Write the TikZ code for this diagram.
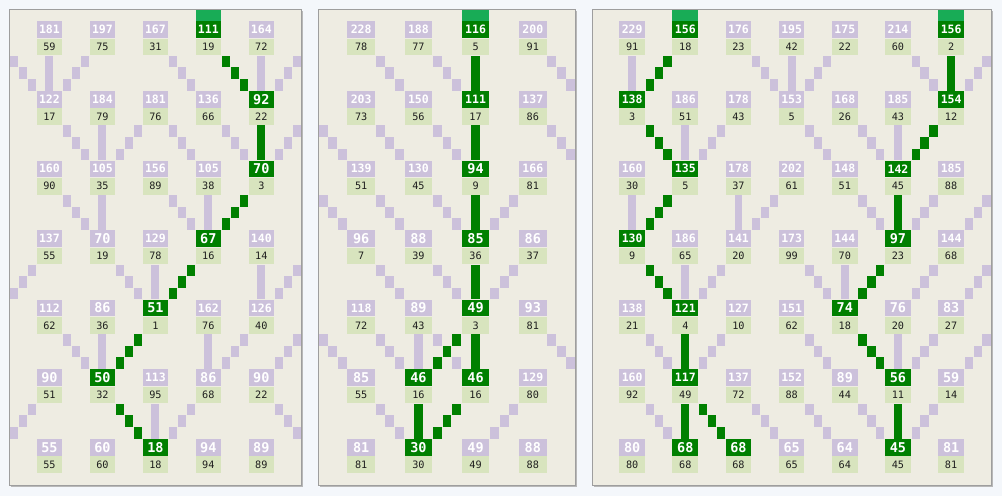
\documentclass[tikz,border=0pt]{standalone}
\usepackage{fontspec}
\setmonofont{DejaVu Sans Mono}
\definecolor{bgout}{RGB}{244,247,251}
\definecolor{panelc}{RGB}{238,236,226}
\definecolor{lil}{RGB}{204,193,219}
\definecolor{valg}{RGB}{216,228,190}
\definecolor{pathg}{RGB}{0,128,0}
\definecolor{topg}{RGB}{24,172,86}
\definecolor{txt}{RGB}{30,30,30}
\tikzset{
  lab/.style={inner sep=0pt, minimum width={3*\PW*1pt-0.9pt}, minimum height=16.6pt,
    font=\ttfamily\bfseries, text=white},
  labl/.style={fill=lil},
  labg/.style={fill=pathg},
  val/.style={inner sep=0pt, minimum width={3*\PW*1pt-0.9pt}, minimum height=16.6pt,
    fill=valg, text=txt, font=\ttfamily\fontsize{10.2}{10.2}\selectfont},
  conl/.style={fill=lil},
  cong/.style={fill=pathg},
  topbar/.style={fill=topg},
  paneln/.style={fill=panelc, draw=black!38, line width=0.7pt},
  pshadow/.style={fill=black!28},
}
% node: row, col, label, value, style letter
\newcommand\nd[5]{%
  \pgfmathsetmacro\cx{\PX+\PW*(6*(#2)+4.5)}%
  \pgfmathsetmacro\ly{\PT+\PV*(1.75+6*(#1))}%
  \pgfmathsetmacro\vy{\PT+\PV*(3.25+6*(#1))}%
  \ifnum#3>99\relax\def\lf{\fontsize{11.5}{11.5}\selectfont}\else\def\lf{\fontsize{13.5}{13.5}\selectfont}\fi
  \node[lab,lab#5] (\pre#1x#2l) at (\cx,\ly) {\lf #3};
  \node[val] (\pre#1x#2v) at (\cx,\vy) {#4};
}
% connectors: gap row, destination column, style
\newcommand\cV[3]{\fill[#3] ({\PX+\PW*(6*(#2)+4)+0.45},{\PT+\PV*(4+6*(#1))}) rectangle ({\PX+\PW*(6*(#2)+5)-0.45},{\PT+\PV*(7+6*(#1))});}
\newcommand\cR[3]{\foreach \kk in {0,1,2}{\fill[#3] ({\PX+\PW*(6*(#2)+\kk)+0.3},{\PT+\PV*(4+6*(#1)+\kk)}) rectangle ({\PX+\PW*(6*(#2)+\kk+1)-0.3},{\PT+\PV*(5+6*(#1)+\kk)});}}
\newcommand\cL[3]{\foreach \kk in {0,1,2}{\fill[#3] ({\PX+\PW*(6*(#2)+8-\kk)+0.3},{\PT+\PV*(4+6*(#1)+\kk)}) rectangle ({\PX+\PW*(6*(#2)+9-\kk)-0.3},{\PT+\PV*(5+6*(#1)+\kk)});}}
\newcommand\panelframe[1]{%
  \fill[pshadow] ({\PX+1.4},{\PT+1.4}) rectangle ({\PX+\PW*#1+1.8},{\PT+\PV*41+1.8});
  \filldraw[paneln] (\PX,\PT) rectangle ({\PX+\PW*#1},{\PT+\PV*41});}
\newcommand\tbar[1]{\fill[topbar] ({\PX+\PW*(6*(#1)+3)+0.45},{\PT+0.4}) rectangle ({\PX+\PW*(6*(#1)+6)-0.45},{\PT+\PV-0.4});}
\begin{document}
\begin{tikzpicture}[x=1pt,y=-1pt]
\fill[bgout] (0,0) rectangle (1002,496);
\useasboundingbox (0,0) rectangle (1002,496);
\def\PT{9.3}\def\PV{11.6}
% ---------------- Panel 1
\def\PX{9.7}\def\PW{8.83}\def\pre{a}
\panelframe{33}
\foreach \rr/\ty/\dd/\st in {0/R/0/l,0/V/0/l,0/L/0/l,0/R/3/l,0/V/4/l,0/L/4/l,0/R/4/g,
  1/R/1/l,1/V/1/l,1/L/1/l,1/R/3/l,1/R/4/l,1/L/4/l,1/V/4/g,
  2/R/1/l,2/V/1/l,2/R/3/l,2/V/3/l,2/L/3/g,
  3/L/-1/l,3/R/2/l,3/V/2/l,3/V/4/l,3/L/4/l,3/L/2/g,
  4/R/1/l,4/V/1/l,4/V/3/l,4/L/3/l,4/L/4/l,4/L/1/g,
  5/L/-1/l,5/V/2/l,5/L/2/l,5/R/5/l,5/R/2/g}
  {\csname c\ty\endcsname{\rr}{\dd}{con\st}}
\tbar{3}
\foreach \rr/\cc/\la/\va/\st in {0/0/181/59/l,0/1/197/75/l,0/2/167/31/l,0/3/111/19/g,0/4/164/72/l,
  1/0/122/17/l,1/1/184/79/l,1/2/181/76/l,1/3/136/66/l,1/4/92/22/g,
  2/0/160/90/l,2/1/105/35/l,2/2/156/89/l,2/3/105/38/l,2/4/70/3/g,
  3/0/137/55/l,3/1/70/19/l,3/2/129/78/l,3/3/67/16/g,3/4/140/14/l,
  4/0/112/62/l,4/1/86/36/l,4/2/51/1/g,4/3/162/76/l,4/4/126/40/l,
  5/0/90/51/l,5/1/50/32/g,5/2/113/95/l,5/3/86/68/l,5/4/90/22/l,
  6/0/55/55/l,6/1/60/60/l,6/2/18/18/g,6/3/94/94/l,6/4/89/89/l}
  {\nd{\rr}{\cc}{\la}{\va}{\st}}
% ---------------- Panel 2
\def\PX{318.3}\def\PW{9.533}\def\pre{b}
\panelframe{27}
\foreach \rr/\ty/\dd/\st in {0/R/1/l,0/R/2/l,0/R/4/l,0/V/2/g,
  1/R/0/l,1/R/1/l,1/R/2/l,1/R/4/l,1/V/2/g,
  2/R/0/l,2/R/1/l,2/R/2/l,2/L/2/l,2/V/2/g,
  3/R/1/l,3/R/2/l,3/L/2/l,3/V/2/g,
  4/R/0/l,4/R/1/l,4/V/1/l,4/R/2/l,4/R/4/l,4/L/1/g,4/V/2/g,
  5/R/1/l,5/L/2/l,5/V/1/g,5/L/1/g}
  {\csname c\ty\endcsname{\rr}{\dd}{con\st}}
\tbar{2}
\foreach \rr/\cc/\la/\va/\st in {0/0/228/78/l,0/1/188/77/l,0/2/116/5/g,0/3/200/91/l,
  1/0/203/73/l,1/1/150/56/l,1/2/111/17/g,1/3/137/86/l,
  2/0/139/51/l,2/1/130/45/l,2/2/94/9/g,2/3/166/81/l,
  3/0/96/7/l,3/1/88/39/l,3/2/85/36/g,3/3/86/37/l,
  4/0/118/72/l,4/1/89/43/l,4/2/49/3/g,4/3/93/81/l,
  5/0/85/55/l,5/1/46/16/g,5/2/46/16/g,5/3/129/80/l,
  6/0/81/81/l,6/1/30/30/g,6/2/49/49/l,6/3/88/88/l}
  {\nd{\rr}{\cc}{\la}{\va}{\st}}
% ---------------- Panel 3
\def\PX{592.3}\def\PW{8.86}\def\pre{c}
\panelframe{45}
\foreach \rr/\ty/\dd/\st in {0/V/0/l,0/R/3/l,0/V/3/l,0/L/3/l,0/R/6/l,0/L/6/l,0/L/0/g,0/V/6/g,
  1/V/1/l,1/L/1/l,1/R/4/l,1/R/5/l,1/V/5/l,1/R/1/g,1/L/5/g,
  2/V/0/l,2/V/2/l,2/L/2/l,2/R/5/l,2/L/5/l,2/L/6/l,2/L/0/g,2/V/5/g,
  3/V/1/l,3/L/1/l,3/R/4/l,3/V/4/l,3/L/5/l,3/L/6/l,3/R/1/g,3/L/4/g,
  4/R/1/l,4/L/1/l,4/R/4/l,4/V/5/l,4/L/5/l,4/L/6/l,4/V/1/g,4/R/5/g,
  5/R/1/l,5/R/3/l,5/R/4/l,5/R/5/l,5/L/5/l,5/V/1/g,5/R/2/g,5/V/5/g}
  {\csname c\ty\endcsname{\rr}{\dd}{con\st}}
\tbar{1}\tbar{6}
\foreach \rr/\cc/\la/\va/\st in {0/0/229/91/l,0/1/156/18/g,0/2/176/23/l,0/3/195/42/l,0/4/175/22/l,0/5/214/60/l,0/6/156/2/g,
  1/0/138/3/g,1/1/186/51/l,1/2/178/43/l,1/3/153/5/l,1/4/168/26/l,1/5/185/43/l,1/6/154/12/g,
  2/0/160/30/l,2/1/135/5/g,2/2/178/37/l,2/3/202/61/l,2/4/148/51/l,2/5/142/45/g,2/6/185/88/l,
  3/0/130/9/g,3/1/186/65/l,3/2/141/20/l,3/3/173/99/l,3/4/144/70/l,3/5/97/23/g,3/6/144/68/l,
  4/0/138/21/l,4/1/121/4/g,4/2/127/10/l,4/3/151/62/l,4/4/74/18/g,4/5/76/20/l,4/6/83/27/l,
  5/0/160/92/l,5/1/117/49/g,5/2/137/72/l,5/3/152/88/l,5/4/89/44/l,5/5/56/11/g,5/6/59/14/l,
  6/0/80/80/l,6/1/68/68/g,6/2/68/68/g,6/3/65/65/l,6/4/64/64/l,6/5/45/45/g,6/6/81/81/l}
  {\nd{\rr}{\cc}{\la}{\va}{\st}}
\end{tikzpicture}
\end{document}
